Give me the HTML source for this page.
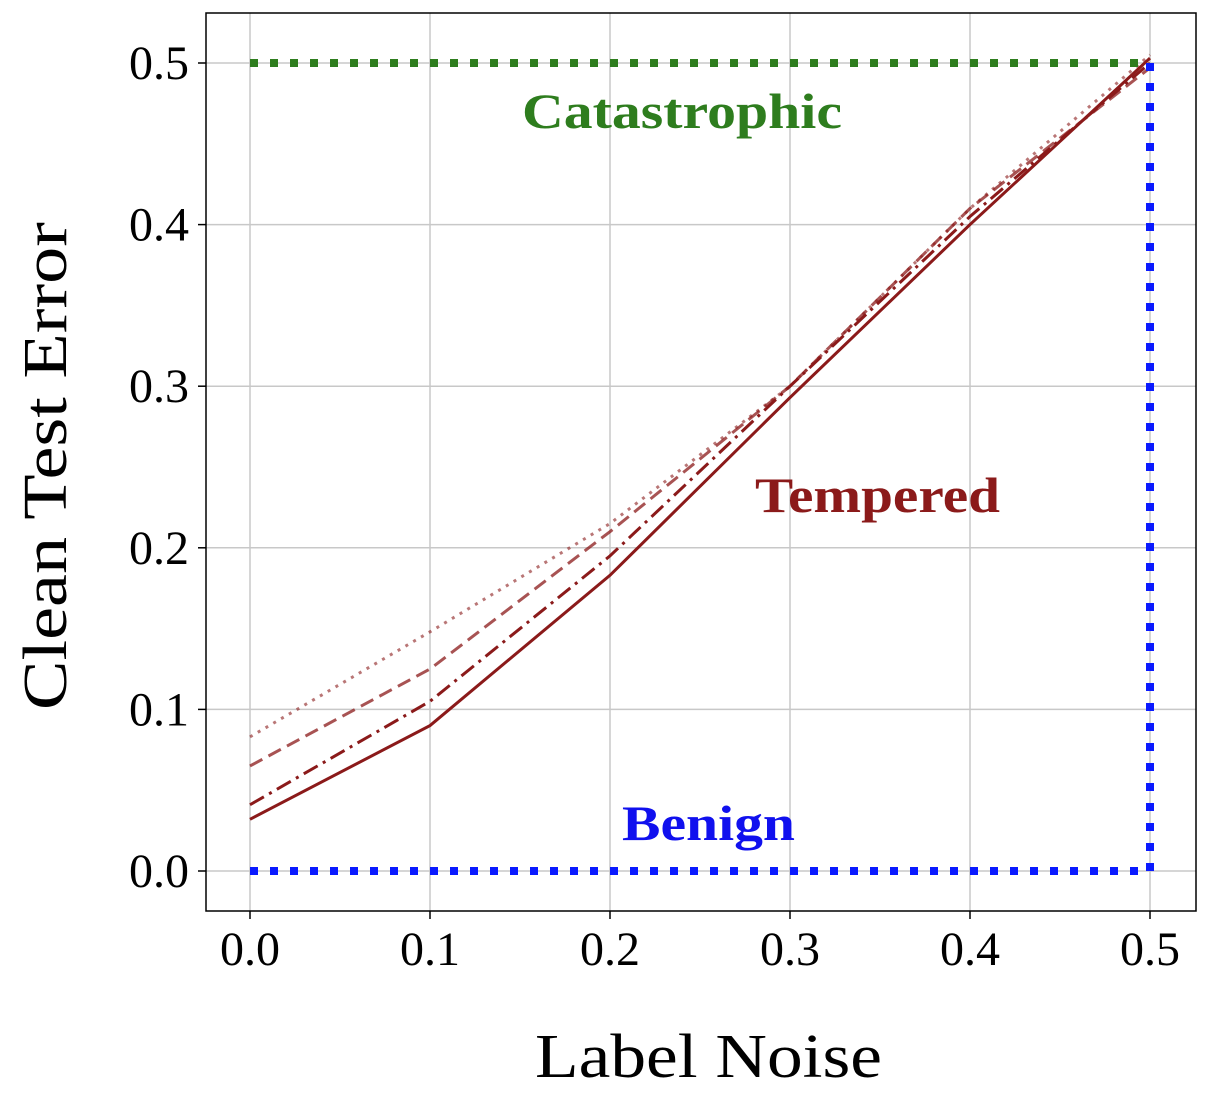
<!DOCTYPE html>
<html><head><meta charset="utf-8"><style>
html,body{margin:0;padding:0;background:#fff;}
svg{display:block;}
</style></head><body>
<svg id="chart" width="1210" height="1104" xmlns="http://www.w3.org/2000/svg" font-family="Liberation Serif, serif">
<g id="grid"></g>
<g id="series"></g>
<rect x="206" y="13" width="990" height="898" fill="none" stroke="#000" stroke-width="1.5"/>
<g id="ticks"></g>
<text x="522" y="128" textLength="320" lengthAdjust="spacingAndGlyphs" font-size="50" font-weight="bold" fill="#2e7d1e">Catastrophic</text>
<text x="755" y="512" textLength="245" lengthAdjust="spacingAndGlyphs" font-size="50" font-weight="bold" fill="#8b1a1a">Tempered</text>
<text x="622" y="840" textLength="173" lengthAdjust="spacingAndGlyphs" font-size="50" font-weight="bold" fill="#1010ee">Benign</text>
<text x="535" y="1077" textLength="347" lengthAdjust="spacingAndGlyphs" font-size="62">Label Noise</text>
<text transform="translate(66,710) rotate(-90)" textLength="488" lengthAdjust="spacingAndGlyphs" font-size="62">Clean Test Error</text>
</svg>
<script>
const xValues = [0, 0.1, 0.2, 0.3, 0.4, 0.5];
const solidSeries = [0.032, 0.09, 0.183, 0.293, 0.40, 0.503];
const dashdotSeries = [0.041, 0.105, 0.195, 0.30, 0.405, 0.50];
const dashedSeries = [0.065, 0.125, 0.21, 0.30, 0.41, 0.497];
const dottedSeries = [0.083, 0.148, 0.215, 0.30, 0.41, 0.505];
const xTicks = [0, 0.1, 0.2, 0.3, 0.4, 0.5];
const yTicks = [0, 0.1, 0.2, 0.3, 0.4, 0.5];
const xTickLabels = ["0.0","0.1","0.2","0.3","0.4","0.5"];
const yTickLabels = ["0.0","0.1","0.2","0.3","0.4","0.5"];
const catastrophicLevel = 0.5;
const benignLevel = 0;

const NS = "http://www.w3.org/2000/svg";
const sx = v => 250 + v * 1800;
const sy = v => 871 - v * 1616;
function mk(tag, attrs, parent) {
  const e = document.createElementNS(NS, tag);
  for (const k in attrs) e.setAttribute(k, attrs[k]);
  parent.appendChild(e);
  return e;
}
const grid = document.getElementById('grid');
const ticks = document.getElementById('ticks');
const series = document.getElementById('series');

xTicks.forEach((t, i) => {
  const g = mk('line', {x1: sx(t), x2: sx(t), y1: 13, y2: 911, stroke: '#c8c8c8', 'stroke-width': 1.5}, grid);
  
  
  const tk = mk('line', {x1: sx(t), x2: sx(t), y1: 911, y2: 919, stroke: '#000', 'stroke-width': 1.5}, ticks);
  
  
  const tx = mk('text', {x: sx(t), y: 965, 'text-anchor': 'middle', 'font-size': 48}, ticks);
  tx.textContent = xTickLabels[i];
  
  
});
yTicks.forEach((t, i) => {
  const g = mk('line', {x1: 206, x2: 1196, y1: sy(t), y2: sy(t), stroke: '#c8c8c8', 'stroke-width': 1.5}, grid);
  
  
  const tk = mk('line', {x1: 198, x2: 206, y1: sy(t), y2: sy(t), stroke: '#000', 'stroke-width': 1.5}, ticks);
  
  
  const tx = mk('text', {x: 189, y: sy(t) + 16, 'text-anchor': 'end', 'font-size': 48}, ticks);
  tx.textContent = yTickLabels[i];
  
  
});

function pts(arr) { return arr.map((v, i) => sx(xValues[i]) + ',' + sy(v)).join(' '); }
const defs = [
  [dottedSeries, '3,6', 0.6, 'dotted-series'],
  [dashedSeries, '14,7', 0.75, 'dashed-series'],
  [dashdotSeries, '16,6,3,6', 1, 'dashdot-series'],
  [solidSeries, '', 1, 'solid-series']
];
defs.forEach(d => {
  const p = mk('polyline', {points: pts(d[0]), fill: 'none', stroke: '#8b1a1a', 'stroke-width': 3, 'stroke-opacity': d[2]}, series);
  if (d[1]) p.setAttribute('stroke-dasharray', d[1]);
  
  
});

const cat = mk('line', {x1: sx(0), x2: sx(0.5), y1: sy(catastrophicLevel), y2: sy(catastrophicLevel), stroke: '#2e7d1e', 'stroke-width': 8, 'stroke-dasharray': '8,12'}, series);


const ben = mk('line', {x1: sx(0), x2: sx(0.5), y1: sy(benignLevel), y2: sy(benignLevel), stroke: '#0a1aff', 'stroke-width': 8, 'stroke-dasharray': '8,12'}, series);


const vert = mk('line', {x1: sx(0.5), x2: sx(0.5), y1: sy(benignLevel), y2: sy(catastrophicLevel), stroke: '#0a1aff', 'stroke-width': 8, 'stroke-dasharray': '8,12'}, series);


</script>
</body></html>
